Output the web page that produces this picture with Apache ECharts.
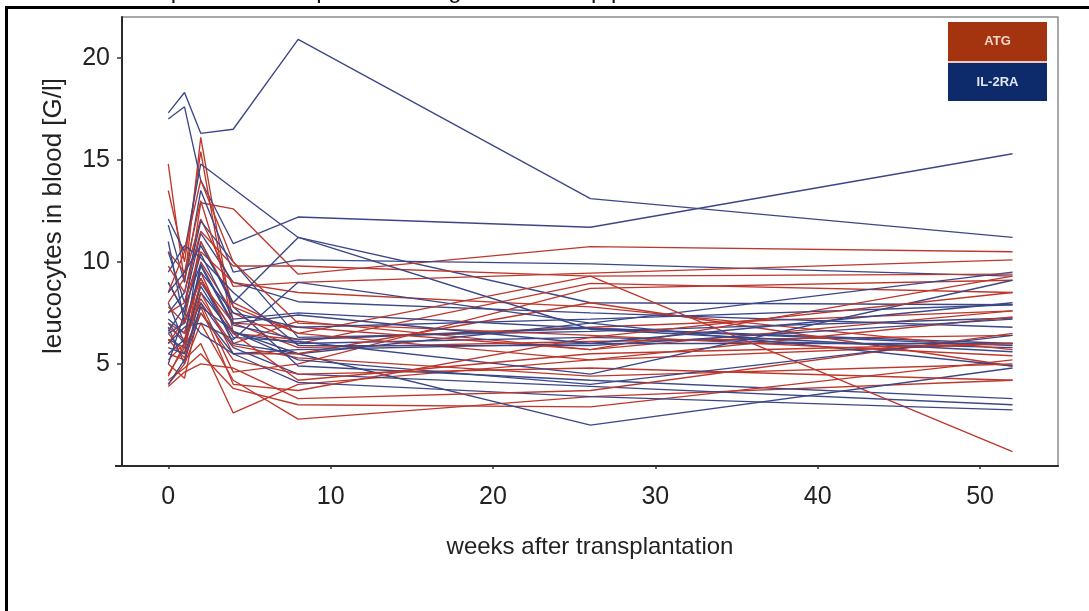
<!DOCTYPE html>
<html>
<head>
<meta charset="utf-8">
<script src="https://cdn.jsdelivr.net/npm/echarts@6/dist/echarts.min.js"></script>
<style>
  html, body { margin: 0; padding: 0; background: #fff; }
  #chart { width: 1089px; height: 611px; }
</style>
</head>
<body>
<div id="chart"></div>
<script>
// Follow-up visits (weeks after transplantation)
const weeks = [0, 1, 2, 4, 8, 26, 52];
const xTicks = [0, 10, 20, 30, 40, 50];
const yTicks = [5, 10, 15, 20];

// Leucocyte counts [G/l] per patient, one row per patient, one value per visit
const atgPatients = [
  [14.8, 9.0, 16.1, 7.0, 5.8, 6.1, 6.4],
  [13.5, 10.0, 15.4, 6.5, 6.2, 6.8, 7.6],
  [9.0, 7.5, 12.9, 12.6, 9.4, 10.75, 10.5],
  [8.0, 9.2, 12.1, 8.8, 9.0, 9.45, 10.1],
  [6.5, 5.5, 10.0, 7.5, 6.0, 8.95, 8.5],
  [5.0, 4.3, 8.0, 4.6, 5.0, 8.7, 9.1],
  [7.0, 6.5, 9.5, 6.0, 7.1, 5.7, 7.6],
  [5.5, 5.2, 6.0, 2.6, 4.0, 5.2, 6.0],
  [4.0, 5.0, 7.0, 4.2, 2.3, 3.4, 4.2],
  [4.2, 4.8, 5.5, 3.8, 3.0, 2.9, 5.2],
  [6.0, 7.2, 11.0, 8.0, 6.5, 9.3, 0.7],
  [5.2, 6.0, 8.5, 5.5, 5.5, 8.0, 4.9],
  [7.5, 8.0, 10.5, 9.0, 8.5, 7.8, 5.7],
  [10.5, 9.5, 13.0, 7.8, 6.5, 5.2, 7.3],
  [4.5, 5.8, 7.5, 5.2, 4.5, 4.8, 4.2],
  [3.9, 4.6, 5.0, 4.8, 3.3, 3.7, 6.5],
  [6.8, 6.2, 9.0, 7.0, 6.8, 5.7, 9.3],
  [8.5, 10.5, 14.0, 10.0, 7.0, 6.4, 5.4],
  [9.8, 8.5, 11.5, 9.8, 9.8, 9.3, 9.4],
  [6.2, 5.3, 7.8, 4.0, 3.7, 6.3, 8.5],
  [4.4, 6.0, 8.2, 5.9, 5.3, 4.4, 5.0],
  [7.8, 7.0, 9.2, 6.5, 4.2, 5.5, 6.0]
];

const il2raPatients = [
  [17.3, 18.3, 16.3, 16.5, 20.9, 13.1, 11.2],
  [17.0, 17.6, 14.0, 10.9, 12.2, 11.7, 15.3],
  [12.1, 10.5, 14.8, 13.6, 11.2, 8.0, 7.9],
  [11.8, 9.0, 13.5, 9.5, 10.1, 9.9, 9.3],
  [10.5, 8.0, 11.4, 9.0, 8.05, 7.5, 6.8],
  [9.0, 7.5, 10.4, 7.2, 7.5, 6.75, 5.9],
  [7.2, 6.5, 9.8, 6.9, 6.2, 6.75, 6.0],
  [6.8, 5.0, 8.5, 6.5, 6.0, 6.3, 5.8],
  [6.5, 7.0, 9.2, 6.0, 5.5, 7.0, 9.5],
  [8.0, 6.0, 11.0, 7.8, 4.9, 4.2, 3.3],
  [5.5, 6.2, 8.0, 5.8, 4.5, 3.9, 3.0],
  [6.2, 5.8, 9.0, 6.6, 5.5, 2.0, 4.8],
  [4.0, 5.2, 7.5, 5.5, 4.1, 3.4, 2.75],
  [7.5, 8.5, 12.0, 10.0, 6.3, 6.6, 7.25],
  [9.5, 10.8, 10.2, 8.5, 5.9, 5.9, 7.2],
  [6.0, 6.8, 7.0, 6.2, 9.0, 7.0, 4.9],
  [7.0, 6.0, 8.8, 6.3, 6.1, 4.5, 9.1],
  [5.0, 7.5, 6.5, 5.5, 5.7, 6.0, 6.0],
  [11.0, 7.0, 9.5, 7.5, 6.8, 7.2, 7.9],
  [8.5, 9.5, 10.8, 8.0, 11.2, 6.7, 5.6],
  [6.6, 7.8, 9.9, 7.0, 7.4, 6.0, 8.0],
  [5.8, 5.5, 7.8, 6.6, 5.2, 4.0, 6.4]
];

const groupNames = ['ATG', 'IL-2RA'];
const lineColors = { 'ATG': '#bd382c', 'IL-2RA': '#3c4787' };
const boxColors = { 'ATG': '#a4340f', 'IL-2RA': '#0d2a6b' };

const FONT = '"Liberation Sans", Arial, sans-serif';

function patientSeries(group, values) {
  return {
    name: group,
    type: 'line',
    data: weeks.map((w, i) => [w, values[i]]),
    symbol: 'none',
    silent: true,
    lineStyle: { color: lineColors[group], width: 1.35 },
    emphasis: { disabled: true }
  };
}

// interleave the two groups so neither colour sits entirely on top
const series = [];
const n = Math.max(atgPatients.length, il2raPatients.length);
for (let i = 0; i < n; i++) {
  if (il2raPatients[i]) series.push(patientSeries('IL-2RA', il2raPatients[i]));
  if (atgPatients[i]) series.push(patientSeries('ATG', atgPatients[i]));
}

const chart = echarts.init(document.getElementById('chart'), null, { renderer: 'canvas' });

chart.setOption({
  animation: false,
  backgroundColor: '#ffffff',
  grid: {
    left: 122, right: 31, top: 17, bottom: 145,
    show: true, borderColor: '#8c8c8c', borderWidth: 1.5, backgroundColor: 'transparent'
  },
  xAxis: {
    type: 'value',
    min: -2.85, max: 54.8,
    axisLine: { show: true, onZero: false, lineStyle: { color: '#2b2b2b', width: 2 } },
    axisTick: { show: true, customValues: xTicks, length: 3, lineStyle: { color: '#333', width: 1.5 } },
    axisLabel: { customValues: xTicks, fontSize: 25, margin: 19, color: '#222', fontFamily: FONT },
    splitLine: { show: false },
    name: 'weeks after transplantation',
    nameLocation: 'middle',
    nameGap: 69,
    nameTextStyle: { fontSize: 24, color: '#222', fontFamily: FONT }
  },
  yAxis: {
    type: 'value',
    min: 0, max: 22,
    axisLine: { show: true, onZero: false, lineStyle: { color: '#2b2b2b', width: 2 } },
    axisTick: { show: true, customValues: yTicks, length: 5, lineStyle: { color: '#333', width: 1.5 } },
    axisLabel: { customValues: yTicks, fontSize: 25, margin: 12, color: '#222', fontFamily: FONT },
    splitLine: { show: false }
  },
  graphic: [
    // caption line running off the top edge
    {
      type: 'text', left: 44, top: -21, silent: true,
      style: { text: 'Each line represents one patient during the follow-up period',
               font: '24px ' + FONT, fill: '#111' }
    },
    // outer frame (top and left edges)
    { type: 'rect', shape: { x: 5, y: 6, width: 1084, height: 3 }, style: { fill: '#000' }, silent: true },
    { type: 'rect', shape: { x: 5, y: 6, width: 3, height: 605 }, style: { fill: '#000' }, silent: true },
    // short overshoot of the x-axis line left of the y-axis
    { type: 'rect', shape: { x: 115, y: 465, width: 8, height: 2 }, style: { fill: '#2b2b2b' }, silent: true },
    // y-axis title
    {
      type: 'text', x: 54, y: 216, rotation: Math.PI / 2, silent: true,
      style: { text: 'leucocytes in blood [G/l]', font: '26px ' + FONT, fill: '#222',
               align: 'center', verticalAlign: 'middle' }
    },
    // group key
    { type: 'rect', shape: { x: 948, y: 22, width: 99, height: 39 }, style: { fill: boxColors['ATG'] }, silent: true },
    { type: 'rect', shape: { x: 948, y: 61, width: 99, height: 2 }, style: { fill: '#e9c9c0' }, silent: true },
    { type: 'rect', shape: { x: 948, y: 63, width: 99, height: 38 }, style: { fill: boxColors['IL-2RA'] }, silent: true },
    {
      type: 'text', x: 997.5, y: 41.5, silent: true,
      style: { text: groupNames[0], font: 'bold 13px ' + FONT, fill: '#f6d6cb', align: 'center', verticalAlign: 'middle' }
    },
    {
      type: 'text', x: 997.5, y: 82, silent: true,
      style: { text: groupNames[1], font: 'bold 13px ' + FONT, fill: '#e3e8f6', align: 'center', verticalAlign: 'middle' }
    }
  ],
  series: series
});
</script>
</body>
</html>
